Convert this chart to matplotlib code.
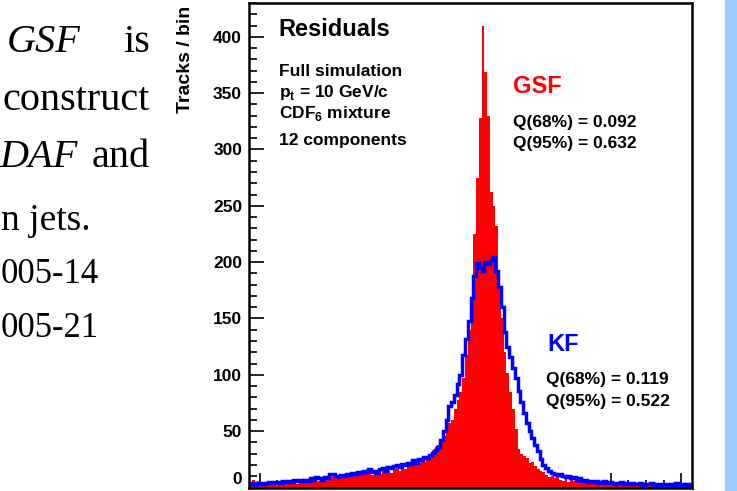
import numpy as np
import matplotlib.pyplot as plt
from matplotlib.patches import Rectangle
from matplotlib.ticker import MultipleLocator

plt.rcParams["mathtext.fontset"] = "custom"
plt.rcParams["mathtext.rm"] = "Liberation Sans"
plt.rcParams["mathtext.bf"] = "Liberation Sans:bold"

# --- DATA ---
x_lo, x_hi = -3.155, 3.155
n_bins = 160

# GSF residuals (filled red), counts per bin
gsf_counts = [
    5, 7, 4, 6, 3, 5, 4, 6, 3, 4,
    5, 4, 3, 5, 6, 4, 5, 3, 6, 5,
    4, 6, 5, 7, 5, 6, 8, 6, 7, 9,
    10, 9, 11, 8, 10, 12, 9, 11, 10, 12,
    14, 12, 15, 13, 11, 14, 13, 12, 15, 14,
    15, 13, 16, 17, 15, 18, 16, 19, 21, 20,
    20, 22, 24, 23, 27, 30, 33, 36, 38, 42,
    46, 50, 57, 60, 70, 78, 85, 97, 118, 140,
    168, 225, 275, 328, 410, 369, 330, 262, 250, 232,
    176, 150, 120, 102, 85, 70, 52, 34, 30, 28,
    26, 22, 23, 19, 16, 15, 14, 11, 9, 10,
    8, 9, 7, 6, 8, 5, 7, 6, 5, 6,
    4, 5, 6, 4, 3, 5, 4, 3, 5, 4,
    3, 4, 2, 3, 5, 3, 2, 4, 3, 2,
    3, 2, 4, 3, 2, 3, 2, 3, 4, 2,
    3, 2, 2, 3, 2, 1, 3, 2, 2, 3,
]

# KF residuals (blue line), counts per bin
kf_counts = [
    3, 4, 2, 3, 4, 3, 4, 5, 4, 5,
    5, 4, 6, 5, 6, 5, 7, 6, 7, 6,
    7, 6, 8, 7, 9, 8, 7, 9, 8, 12,
    12, 10, 9, 11, 10, 12, 11, 13, 12, 14,
    13, 15, 14, 16, 14, 15, 13, 16, 17, 15,
    18, 17, 19, 20, 18, 21, 20, 22, 21, 24,
    22, 25, 24, 27, 26, 29, 31, 33, 36, 42,
    50, 60, 72, 76, 82, 92, 100, 118, 132, 148,
    168, 188, 199, 195, 192, 200, 198, 202, 205, 192,
    178, 160, 138, 125, 116, 106, 97, 86, 76, 66,
    57, 50, 44, 38, 32, 25, 20, 17, 15, 13,
    12, 11, 12, 10, 9, 10, 8, 9, 7, 8,
    6, 7, 5, 6, 5, 6, 4, 5, 6, 4,
    5, 4, 3, 4, 5, 3, 4, 3, 4, 3,
    3, 4, 2, 3, 3, 4, 2, 3, 2, 3,
    3, 2, 3, 2, 4, 2, 3, 2, 3, 2,
]

y_ticks = [0, 50, 100, 150, 200, 250, 300, 350, 400]

gsf_lines = ["Q(68%) = 0.092", "Q(95%) = 0.632"]
kf_lines = ["Q(68%) = 0.119", "Q(95%) = 0.522"]

W, H = 737, 491


def fx(px):
    return px / W


def fy(py):
    return 1 - py / H


# --- FIGURE ---
fig = plt.figure(figsize=(W / 100, H / 100), dpi=100)
fig.patch.set_facecolor("white")

# light blue strip on the right edge of the slide
fig.patches.append(Rectangle((fx(725), 0), fx(12), 1, transform=fig.transFigure,
                             color="#99ccff", zorder=0))

# slide text on the left (only the visible part of each line)
serif = dict(family="Liberation Serif", color="black", va="baseline")
fig.text(fx(7), fy(52), "GSF", fontsize=29, style="italic", ha="left", **serif)
fig.text(fx(150), fy(52), "is", fontsize=29, ha="right", **serif)
fig.text(fx(150), fy(110), "construct", fontsize=29, ha="right", **serif)
fig.text(fx(78), fy(167), "DAF", fontsize=29, style="italic", ha="right", **serif)
fig.text(fx(150), fy(167), "and", fontsize=29, ha="right", **serif)
fig.text(fx(1), fy(230), "n jets.", fontsize=27, ha="left", **serif)
fig.text(fx(1), fy(283), "005-14", fontsize=25, ha="left", **serif)
fig.text(fx(1), fy(337), "005-21", fontsize=25, ha="left", **serif)

# --- HISTOGRAM PANEL ---
ax = fig.add_axes([fx(249), fy(487.5), fx(692 - 249), (487.5 - 3) / H])
edges = np.linspace(x_lo, x_hi, n_bins + 1)

ax.stairs(gsf_counts, edges, fill=True, color="#ff0000", zorder=2)
ax.stairs(kf_counts, edges, baseline=None, color="#0000ff", linewidth=2.5, zorder=3)

ax.set_xlim(x_lo, x_hi)
ax.set_ylim(0, 430)
ax.set_yticks(y_ticks)
ax.xaxis.set_major_locator(MultipleLocator(1))
ax.xaxis.set_minor_locator(MultipleLocator(0.25))
ax.yaxis.set_minor_locator(MultipleLocator(10))
ax.tick_params(which="both", direction="in", width=1.2, top=False, right=False,
               labelbottom=False)
ax.tick_params(which="major", length=11)
ax.tick_params(which="minor", length=5.5)
ax.tick_params(axis="y", labelsize=12.5, pad=5)
for lab in ax.get_yticklabels():
    lab.set_fontweight("bold")
    lab.set_family("Liberation Sans")
# keep the "0" label inside the picture
ax.get_yticklabels()[0].set_va("bottom")
for sp in ax.spines.values():
    sp.set_linewidth(1.8)

fig.text(fx(185), fy(6), "Tracks / bin", rotation=90, ha="center", va="top",
         fontsize=14, fontweight="bold", family="Liberation Sans")

# --- LABELS INSIDE THE PANEL ---
sans = dict(family="Liberation Sans", fontweight="bold", va="baseline", ha="left")
fig.text(fx(278), fy(36), "Residuals", fontsize=17, **sans)
fig.text(fx(279), fy(76), "Full simulation", fontsize=12.5, **sans)
fig.text(fx(279), fy(97), "p$_\\mathbf{t}$ = 10 GeV/c", fontsize=12.5, **sans)
fig.text(fx(279), fy(118), "CDF$_\\mathbf{6}$ mixture", fontsize=12.5, **sans)
fig.text(fx(279), fy(145), "12 components", fontsize=12.5, **sans)

fig.text(fx(513), fy(93), "GSF", fontsize=17, color="#ff0000", **sans)
fig.text(fx(513), fy(127), gsf_lines[0], fontsize=12.5, **sans)
fig.text(fx(513), fy(148), gsf_lines[1], fontsize=12.5, **sans)

fig.text(fx(547), fy(351), "KF", fontsize=17, color="#0000ff", **sans)
fig.text(fx(546), fy(384), kf_lines[0], fontsize=12.5, **sans)
fig.text(fx(546), fy(406), kf_lines[1], fontsize=12.5, **sans)

fig.savefig("out.png", dpi=100)
